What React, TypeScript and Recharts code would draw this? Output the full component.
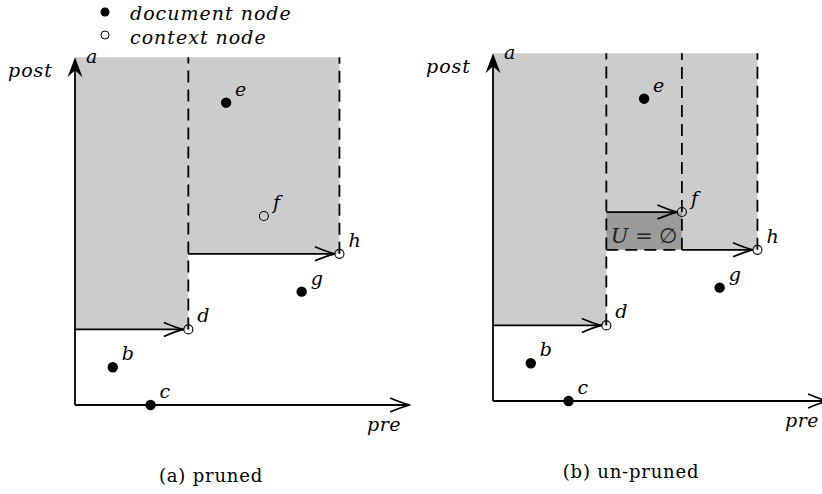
import { ReferenceArea, ReferenceLine, Scatter, ScatterChart, XAxis, YAxis } from "recharts";

// pre/post ranks of the document tree nodes
const nodeNames = ["a", "b", "c", "d", "e", "f", "g", "h"];
const preRank = [0, 1, 2, 3, 4, 5, 6, 7];
const postRank = [9.2, 1, 0, 2, 8, 5, 3, 4];
const contextNodes = ["d", "f", "h"];

// context nodes whose regions are drawn in each panel
const prunedSteps = ["d", "h"];
const unprunedSteps = ["d", "f", "h"];

const PRE_END = 9;
const POST_END = 9.5;
const AXIS_TOP = 9.2;
const AXIS_RIGHT = 8.87;

const SERIF = "DejaVu Serif, serif";
const LIGHT = "#cccccc";
const DARK = "#9b9b9b";
const DASH = "12 7";

const italicText = { fontFamily: SERIF, fontStyle: "italic", fontSize: 19 };

type Node = { name: string; pre: number; post: number; context: boolean };

const nodes: Node[] = nodeNames.map((name, i) => ({
  name,
  pre: preRank[i],
  post: postRank[i],
  context: contextNodes.includes(name),
}));
const byName = (n: string) => nodes.find((d) => d.name === n)!;

function ArrowLine(props: any) {
  const { x1 = 0, y1 = 0, x2 = 0, y2 = 0, head = "open", gap = 0 } = props;
  const len = Math.hypot(x2 - x1, y2 - y1) || 1;
  const ux = (x2 - x1) / len;
  const uy = (y2 - y1) / len;
  const tx = x2 - ux * gap;
  const ty = y2 - uy * gap;
  const px = -uy;
  const py = ux;
  const pt = (back: number, side: number) =>
    `${tx - ux * back + px * side},${ty - uy * back + py * side}`;
  if (head === "stealth") {
    return (
      <g>
        <line x1={x1} y1={y1} x2={tx - ux * 12} y2={ty - uy * 12} stroke="#000" strokeWidth={1.8} />
        <path d={`M${tx},${ty} L${pt(20, 7.5)} L${pt(13, 0)} L${pt(20, -7.5)} Z`} fill="#000" />
      </g>
    );
  }
  return (
    <g>
      <line x1={x1} y1={y1} x2={tx} y2={ty} stroke="#000" strokeWidth={1.8} />
      <path
        d={`M${pt(20, 7)} Q${pt(7, 1.5)} ${tx},${ty} Q${pt(7, -1.5)} ${pt(20, -7)}`}
        fill="none"
        stroke="#000"
        strokeWidth={1.7}
      />
    </g>
  );
}

function NodeMark(props: any) {
  const { cx, cy, payload } = props;
  if (payload.name === "a") {
    return (
      <text x={cx + 11} y={cy + 6} style={italicText}>
        a
      </text>
    );
  }
  return (
    <g>
      {payload.context ? (
        <circle cx={cx} cy={cy} r={4.5} fill="none" stroke="#000" strokeWidth={1.1} />
      ) : (
        <circle cx={cx} cy={cy} r={5.2} fill="#000" />
      )}
      <text x={cx + 9} y={cy - 7} style={italicText}>
        {payload.name}
      </text>
    </g>
  );
}

function Panel({ steps, left, top }: { steps: string[]; left: number; top: number }) {
  const stepNodes = steps.map(byName);
  const areas: JSX.Element[] = [];
  const lines: JSX.Element[] = [];

  stepNodes.forEach((n, i) => {
    const prevPre = i === 0 ? 0 : stepNodes[i - 1].pre;
    const next = stepNodes[i + 1];
    areas.push(
      <ReferenceArea
        key={`area-${n.name}`}
        x1={prevPre}
        x2={n.pre}
        y1={n.post}
        y2={AXIS_TOP}
        fill={LIGHT}
        fillOpacity={1}
        stroke="none"
        ifOverflow="visible"
      />
    );
    // empty region left between this step and a lower following step
    if (next && next.post < n.post) {
      areas.push(
        <ReferenceArea
          key={`empty-${n.name}`}
          x1={prevPre}
          x2={n.pre}
          y1={next.post}
          y2={n.post}
          fill={DARK}
          fillOpacity={1}
          stroke="none"
          ifOverflow="visible"
          label={(p: any) => {
            const vb = p.viewBox;
            return (
              <text
                x={vb.x + vb.width / 2}
                y={vb.y + vb.height - 7}
                textAnchor="middle"
                style={{ fontFamily: SERIF, fontSize: 21 }}
                fill="#222"
              >
                <tspan style={{ fontStyle: "italic" }}>U</tspan> = ∅
              </text>
            );
          }}
        />
      );
      lines.push(
        <ReferenceLine
          key={`empty-bottom-${n.name}`}
          segment={[
            { x: prevPre, y: next.post },
            { x: n.pre, y: next.post },
          ]}
          stroke="#000"
          strokeWidth={1.8}
          strokeDasharray={DASH}
        />,
        <ReferenceLine
          key={`empty-right-${n.name}`}
          segment={[
            { x: n.pre, y: next.post },
            { x: n.pre, y: n.post },
          ]}
          stroke="#000"
          strokeWidth={1.8}
          strokeDasharray={DASH}
        />
      );
    }
    lines.push(
      <ReferenceLine
        key={`dash-${n.name}`}
        segment={[
          { x: n.pre, y: n.post },
          { x: n.pre, y: AXIS_TOP },
        ]}
        stroke="#000"
        strokeWidth={1.8}
        strokeDasharray={DASH}
      />,
      <ReferenceLine
        key={`arrow-${n.name}`}
        segment={[
          { x: prevPre, y: n.post },
          { x: n.pre, y: n.post },
        ]}
        shape={(p: any) => <ArrowLine {...p} gap={4.5} />}
      />
    );
  });

  return (
    <div style={{ position: "absolute", left, top }}>
      <ScatterChart width={420} height={494} margin={{ top: 46, right: 5, bottom: 89, left: 75 }}>
        <XAxis type="number" dataKey="pre" domain={[0, PRE_END]} hide />
        <YAxis type="number" dataKey="post" domain={[0, POST_END]} hide />
        {areas}
        {lines}
        <ReferenceLine
          segment={[
            { x: 0, y: 0 },
            { x: AXIS_RIGHT, y: 0 },
          ]}
          shape={(p: any) => <ArrowLine {...p} />}
        />
        <ReferenceLine
          segment={[
            { x: 0, y: 0 },
            { x: 0, y: AXIS_TOP },
          ]}
          shape={(p: any) => <ArrowLine {...p} head="stealth" />}
        />
        <ReferenceLine
          segment={[
            { x: 0, y: AXIS_TOP },
            { x: 0, y: AXIS_TOP },
          ]}
          shape={(p: any) => (
            <text x={p.x1 - 22} y={p.y1 + 20} textAnchor="end" style={{ ...italicText, letterSpacing: 1 }}>
              post
            </text>
          )}
        />
        <ReferenceLine
          segment={[
            { x: AXIS_RIGHT, y: 0 },
            { x: AXIS_RIGHT, y: 0 },
          ]}
          shape={(p: any) => (
            <text x={p.x1 - 43} y={p.y1 + 26} style={{ ...italicText, letterSpacing: 0.5 }}>
              pre
            </text>
          )}
        />
        <Scatter data={nodes} isAnimationActive={false} shape={(p: any) => <NodeMark {...p} />} />
      </ScatterChart>
    </div>
  );
}

export default function App() {
  const legendText = { ...italicText, fontSize: 19, letterSpacing: 1 };
  const caption = { fontFamily: SERIF, fontSize: 18, letterSpacing: 0.8 };
  return (
    <div
      style={{
        position: "absolute",
        left: 0,
        top: 0,
        width: 822,
        height: 494,
        overflow: "hidden",
        background: "#fff",
      }}
    >
      <Panel steps={prunedSteps} left={0} top={0} />
      <Panel steps={unprunedSteps} left={418} top={-4} />
      <svg
        width={822}
        height={494}
        style={{ position: "absolute", left: 0, top: 0, pointerEvents: "none" }}
      >
        <circle cx={105} cy={12} r={4.5} fill="#000" />
        <text x={130} y={20} style={legendText}>
          document node
        </text>
        <circle cx={105} cy={35} r={4} fill="none" stroke="#000" strokeWidth={1} />
        <text x={130} y={44} style={legendText}>
          context node
        </text>
        <text x={211} y={482} textAnchor="middle" style={caption}>
          (a) pruned
        </text>
        <text x={631} y={478} textAnchor="middle" style={caption}>
          (b) un-pruned
        </text>
      </svg>
    </div>
  );
}
